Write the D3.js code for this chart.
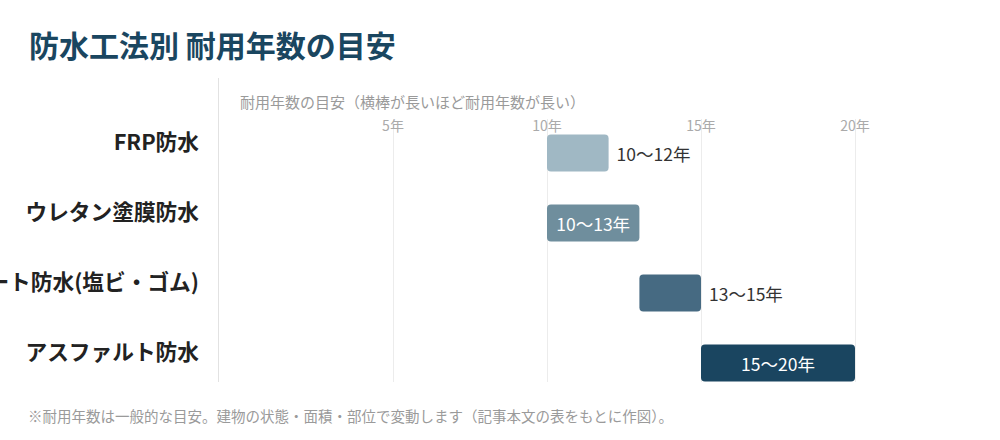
<!DOCTYPE html>
<html><head><meta charset="utf-8">
<script src="https://cdn.jsdelivr.net/npm/d3@7"></script>
<style>
html,body{margin:0;padding:0;background:#fff;}
svg{display:block;font-family:"Noto Sans CJK JP","Noto Sans",sans-serif;}
</style></head>
<body>
<svg id="chart" width="1000" height="440"></svg>
<script>
const categories = ["FRP防水", "ウレタン塗膜防水", "シート防水(塩ビ・ゴム)", "アスファルト防水"];
const startYears = [10, 10, 13, 15];
const endYears = [12, 13, 15, 20];
const valueLabels = ["10〜12年", "10〜13年", "13〜15年", "15〜20年"];
const barColors = ["#a0b8c4", "#6f8e9d", "#466a82", "#1a4560"];
const tickValues = [5, 10, 15, 20];
const tickLabels = ["5年", "10年", "15年", "20年"];
const titleText = "防水工法別 耐用年数の目安";
const subtitleText = "耐用年数の目安（横棒が長いほど耐用年数が長い）";
const noteText = "※耐用年数は一般的な目安。建物の状態・面積・部位で変動します（記事本文の表をもとに作図）。";

const svg = d3.select("#chart");
const x = d3.scaleLinear().domain([0, 20]).range([239, 855]);
const y = d3.scaleBand().domain(categories).range([118, 398]).paddingInner(0.47).paddingOuter(0.235);

svg.append("text").attr("x", 29).attr("y", 57).attr("font-size", 30).attr("font-weight", 700)
  .attr("fill", "#1a4660").text(titleText);

// separator
svg.append("line").attr("x1", 218.5).attr("x2", 218.5).attr("y1", 78).attr("y2", 382)
  .attr("stroke", "#e2e2e2").attr("stroke-width", 1);

svg.append("text").attr("x", 240).attr("y", 101).attr("dominant-baseline", "central")
  .attr("font-size", 15).attr("fill", "#9a9a9a").text(subtitleText);

// grid + ticks
const gridG = svg.append("g");
tickValues.forEach((t, i) => {
  gridG.append("line").attr("x1", Math.round(x(t)) + 0.5).attr("x2", Math.round(x(t)) + 0.5)
    .attr("y1", 119).attr("y2", 382).attr("stroke", "#ececec");
  gridG.append("text").attr("x", x(t)).attr("y", 125).attr("text-anchor", "middle")
    .attr("dominant-baseline", "central").attr("font-size", 14).attr("fill", "#aaaaaa").text(tickLabels[i]);
});

// category labels
categories.forEach((c, i) => {
  svg.append("text").attr("x", 199).attr("y", y(c) + 6.5).attr("text-anchor", "end")
    .attr("dominant-baseline", "central").attr("font-size", 21.7).attr("font-weight", 700)
    .attr("fill", "#222").text(c);
});

// bars
categories.forEach((c, i) => {
  const x0 = x(startYears[i]), x1 = x(endYears[i]);
  svg.append("rect").attr("x", x0).attr("y", y(c)).attr("width", x1 - x0).attr("height", y.bandwidth())
    .attr("rx", 4).attr("ry", 4).attr("fill", barColors[i]);
  const inside = (endYears[i] - startYears[i]) >= 3;
  svg.append("text")
    .attr("x", inside ? (x0 + x1) / 2 : x1 + 8)
    .attr("y", y(c) + y.bandwidth() / 2)
    .attr("text-anchor", inside ? "middle" : "start")
    .attr("dominant-baseline", "central")
    .attr("font-size", 17.5).attr("fill", inside ? "#ffffff" : "#333333")
    .text(valueLabels[i]);
});

svg.append("text").attr("x", 28).attr("y", 415).attr("dominant-baseline", "central")
  .attr("font-size", 14.5).attr("fill", "#9a9a9a").text(noteText);
</script>
</body></html>
